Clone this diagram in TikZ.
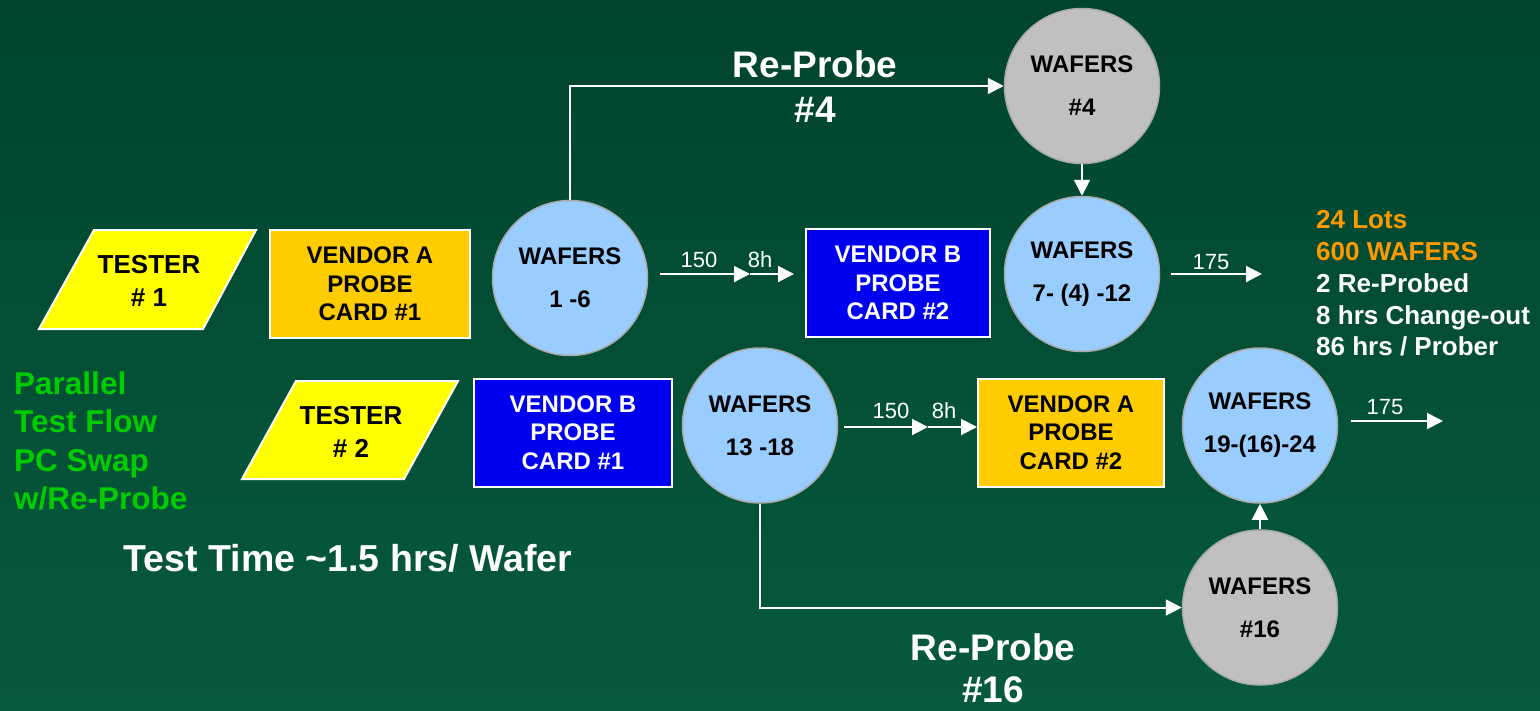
\documentclass[tikz,border=0pt]{standalone}
\usepackage{fontspec}
\setmainfont{Liberation Sans}
\usetikzlibrary{arrows.meta}
\definecolor{bgtop}{RGB}{0,68,46}
\definecolor{bgbot}{RGB}{6,90,62}
\definecolor{wblue}{RGB}{153,204,255}
\definecolor{wgray}{RGB}{192,192,192}
\definecolor{wring}{RGB}{170,170,170}
\definecolor{cardorange}{RGB}{255,204,0}
\definecolor{cardblue}{RGB}{0,0,240}
\definecolor{testyellow}{RGB}{255,255,0}
\definecolor{flowgreen}{RGB}{0,204,0}
\definecolor{sumorange}{RGB}{255,153,0}
\begin{document}
\begin{tikzpicture}[x=1pt,y=-1pt,
  wafer/.style={circle, minimum size=155pt, inner sep=0pt, fill=wblue, draw=wring, line width=1.5pt,
    align=center, text=black, font=\fontsize{24}{43}\selectfont\bfseries},
  wafergray/.style={wafer, fill=wgray},
  cardA/.style={rectangle, minimum height=108pt, inner sep=0pt, fill=cardorange, draw=white, line width=2pt,
    align=center, text=black, font=\fontsize{24}{28.5}\selectfont\bfseries},
  cardB/.style={cardA, fill=cardblue, text=white},
  testershape/.style={fill=testyellow, draw=white, line width=2pt},
  testertext/.style={align=center, inner sep=0pt, text=black, font=\fontsize{26}{33}\selectfont\bfseries},
  arr/.style={draw=white, line width=2pt, -{Triangle[length=16pt,width=16pt]}},
  numlabel/.style={text=white, inner sep=0pt, font=\fontsize{22}{26}\selectfont},
  bigwhite/.style={text=white, align=center, inner sep=0pt, font=\fontsize{37}{45}\selectfont\bfseries},
]
\useasboundingbox (0,0) rectangle (1540,710);
\shade[top color=bgtop, bottom color=bgbot] (0,0) rectangle (1540,710);

% testers
\draw[testershape] (94,230) -- (256,230) -- (203,329) -- (39,329) -- cycle;
\node[testertext] (t1) at (149,280.5) {TESTER\\\# 1};
\draw[testershape] (296,381) -- (458,381) -- (404,479) -- (242,479) -- cycle;
\node[testertext] (t2) at (351,431.5) {TESTER\\\# 2};

% probe cards
\node[cardA, minimum width=200pt] (pa1) at (370,284) {VENDOR A\\PROBE\\CARD \#1};
\node[cardB, minimum width=184pt] (pb2) at (898,283) {VENDOR B\\PROBE\\CARD \#2};
\node[cardB, minimum width=198pt] (pb1) at (573,432.5) {VENDOR B\\PROBE\\CARD \#1};
\node[cardA, minimum width=186pt] (pa2) at (1071,432.5) {VENDOR A\\PROBE\\CARD \#2};

% wafers
\node[wafer] (w1) at (570,278) {WAFERS\\1 -6};
\node[wafer] (w7) at (1082,274) {WAFERS\\7- (4) -12};
\node[wafergray] (w4) at (1082,86) {WAFERS\\\#4};
\node[wafer] (w13) at (760,425.5) {WAFERS\\13 -18};
\node[wafer] (w19) at (1260,425.5) {WAFERS\\19-(16)-24};
\node[wafergray] (w16) at (1260,607.5) {WAFERS\\\#16};

% re-probe connectors
\draw[arr] (w1.north) |- (w4.west);
\draw[arr] (w4.south) -- (w7.north);
\draw[arr] (w13.south) |- (w16.west);
\draw[arr] (w16.north) -- (w19.south);

% top flow arrows
\coordinate (a1s) at (660,274);
\coordinate (a1m) at (750,274);
\coordinate (a1e) at (794,274);
\draw[arr] (a1s) -- (a1m);
\draw[arr] (a1m) -- (a1e);
\node[numlabel] (n150a) at (699,260) {150};
\node[numlabel] (n8a) at (760,260) {8h};
\coordinate (a2s) at (1171,274);
\coordinate (a2e) at (1262,274);
\draw[arr] (a2s) -- (a2e);
\node[numlabel] (n175a) at (1211,262) {175};

% bottom flow arrows
\coordinate (b1s) at (844,427);
\coordinate (b1m) at (928,427);
\coordinate (b1e) at (pa2.west |- b1s);
\draw[arr] (b1s) -- (b1m);
\draw[arr] (b1m) -- (b1e);
\node[numlabel] (n150b) at (891,411) {150};
\node[numlabel] (n8b) at (944,411) {8h};
\coordinate (b2s) at (1351,421);
\coordinate (b2e) at (1443,421);
\draw[arr] (b2s) -- (b2e);
\node[numlabel] (n175b) at (1385,407) {175};

% texts
\node[bigwhite] (rp4) at (815,87) {Re-Probe\\\#4};
\node[bigwhite, font=\fontsize{37}{42}\selectfont\bfseries] (rp16) at (993,668) {Re-Probe\\\#16};
\node[text=white, inner sep=0pt, font=\fontsize{37.5}{40}\selectfont\bfseries] (tt) at (348,558) {Test Time \char`~1.5 hrs/ Wafer};
\node[anchor=west, align=left, inner sep=0pt, text=flowgreen, font=\fontsize{31.5}{38.5}\selectfont\bfseries] (flow) at (14,441) {Parallel\\Test Flow\\PC Swap\\w/Re-Probe};
\node[anchor=west, align=left, inner sep=0pt, text=white, font=\fontsize{26}{31.75}\selectfont\bfseries] (summary) at (1316,283.5)
  {\textcolor{sumorange}{24 Lots}\\\textcolor{sumorange}{600 WAFERS}\\2 Re-Probed\\8 hrs Change-out\\86 hrs / Prober};
\end{tikzpicture}
\end{document}
